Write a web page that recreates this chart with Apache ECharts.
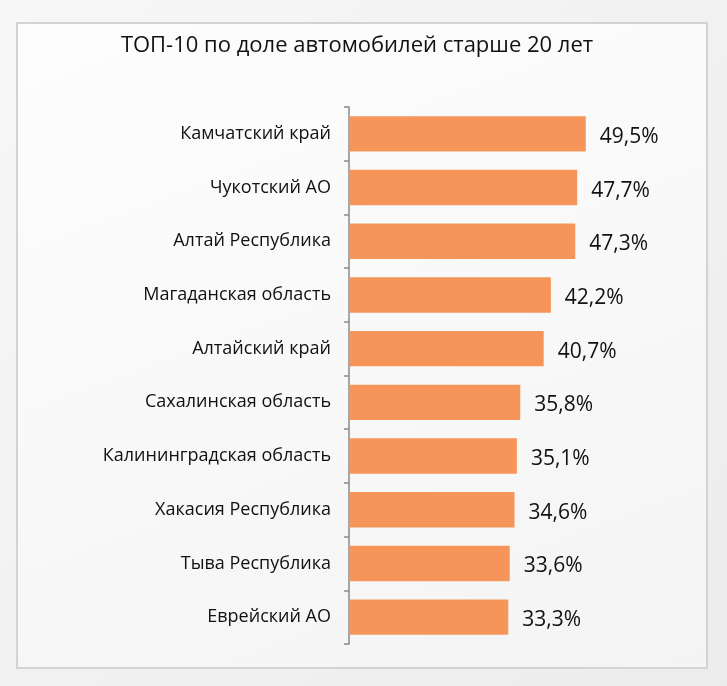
<!DOCTYPE html>
<html lang="ru">
<head>
  <meta charset="UTF-8">
  <title>ТОП-10</title>
  <style>
    html, body { margin: 0; padding: 0; }
    body { width: 727px; height: 686px; background: linear-gradient(135deg, #f7f7f7, #ececec); position: relative; overflow: hidden; }
    #frame { position: absolute; left: 16px; top: 22px; width: 688px; height: 643px; border: 2px solid #d3d3d3; background: linear-gradient(160deg, #fdfdfd, #f4f4f4); }
    #main { position: absolute; left: 0; top: 0; width: 727px; height: 686px; }
  </style>
</head>
<body>
<div id="frame"></div>
<div id="main"></div>
<script src="https://cdn.jsdelivr.net/npm/echarts@6/dist/echarts.min.js"></script>
<script type="text/javascript">
  const regions = ['Камчатский край', 'Чукотский АО', 'Алтай Республика', 'Магаданская область', 'Алтайский край',
    'Сахалинская область', 'Калининградская область', 'Хакасия Республика', 'Тыва Республика', 'Еврейский АО']
  const shares = [49.5, 47.7, 47.3, 42.2, 40.7, 35.8, 35.1, 34.6, 33.6, 33.3]

  const Chart = echarts.init(document.getElementById('main'))

  const option = {
    title: {
      text: 'ТОП-10 по доле автомобилей старше 20 лет',
      left: 352,
      textAlign: 'center',
      top: 30,
      textStyle: { fontFamily: 'Open Sans', fontSize: 22, fontWeight: 'normal', color: '#111' }
    },
    grid: { left: 349, top: 107, bottom: 42, right: 91 },
    xAxis: {
      type: 'value',
      min: 0,
      max: 60,
      show: false
    },
    yAxis: {
      type: 'category',
      inverse: true,
      data: regions,
      axisLine: { show: true, lineStyle: { color: '#8a8a8a', width: 1.5 } },
      axisTick: { show: true, inside: false, length: 5, lineStyle: { color: '#8a8a8a', width: 1.5 } },
      axisLabel: { fontFamily: 'Open Sans', fontSize: 18, color: '#111', margin: 18 }
    },
    series: [{
      type: 'bar',
      data: shares,
      barCategoryGap: '34%',
      itemStyle: { color: '#F5955A' },
      label: {
        show: true,
        position: 'right',
        distance: 14,
        offset: [0, 3],
        fontFamily: 'Open Sans',
        fontSize: 21,
        color: '#111',
        formatter: (p) => p.value.toFixed(1).replace('.', ',') + '%'
      }
    }]
  }

  Chart.setOption(option)
</script>
</body>
</html>
